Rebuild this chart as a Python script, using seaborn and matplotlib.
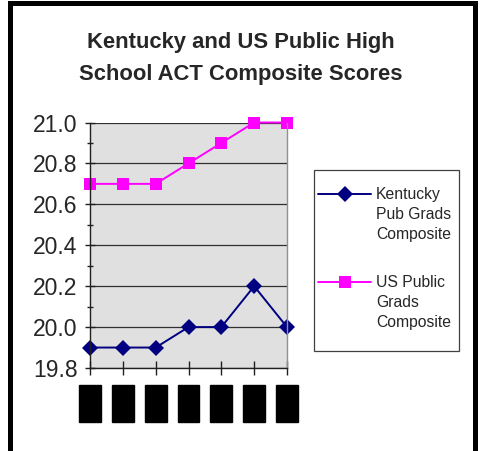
import matplotlib
matplotlib.use("Agg")
import matplotlib.pyplot as plt
import seaborn as sns
import pandas as pd
from matplotlib.ticker import MultipleLocator, FormatStrFormatter
from matplotlib.patches import Rectangle
from matplotlib.lines import Line2D

years = ["1996", "1997", "1998", "1999", "2000", "2001", "2002"]
ky_label = ["Kentucky", "Pub Grads", "Composite"]
us_label = ["US Public", "Grads", "Composite"]
ky_scores = [19.9, 19.9, 19.9, 20.0, 20.0, 20.2, 20.0]
us_scores = [20.7, 20.7, 20.7, 20.8, 20.9, 21.0, 21.0]
title_lines = ["Kentucky and US Public High", "School ACT Composite Scores"]

sns.set_style("white")
plt.rcParams['font.family'] = ['Liberation Sans', 'DejaVu Sans']

W, H = 480, 451
fig = plt.figure(figsize=(4.8, 4.51), dpi=100)
ax = fig.add_axes([90 / W, 1 - 368 / H, 197 / W, 245.5 / H])
ax.set_facecolor("#e0e0e0")

ky_name = "\n".join(ky_label)
us_name = "\n".join(us_label)
df = pd.DataFrame({
    "Year": years * 2,
    "Score": ky_scores + us_scores,
    "Series": [ky_name] * len(years) + [us_name] * len(years),
})
colors = {ky_name: "#000080", us_name: "#ff00ff"}
sns.lineplot(data=df, x="Year", y="Score", hue="Series", style="Series",
             markers={ky_name: "D", us_name: "s"}, dashes=False,
             palette=colors, markersize=9, markeredgewidth=0,
             linewidth=1.4, sort=False, ax=ax)
for ln in ax.lines:
    ln.set_clip_on(False)
    if ln.get_marker() == "D":
        ln.set_markersize(8)

ax.set_xlim(0, 6)
ax.set_ylim(19.8, 21.0)
ax.yaxis.set_major_locator(MultipleLocator(0.2))
ax.yaxis.set_minor_locator(MultipleLocator(0.1))
ax.yaxis.set_major_formatter(FormatStrFormatter("%.1f"))
ax.yaxis.grid(True, which="major", color="#303030", linewidth=0.9)
ax.set_axisbelow(True)
ax.set_xlabel("")
ax.set_ylabel("")
for s in ["left", "bottom"]:
    ax.spines[s].set_color("#202020")
    ax.spines[s].set_linewidth(1.0)
ax.spines["right"].set_color("#909090")
ax.spines["right"].set_linewidth(1.0)
ax.spines["top"].set_visible(False)

ax.tick_params(axis="y", which="major", direction="inout", length=7.2, width=1,
               color="#202020", labelsize=16.5, pad=5.4, left=True)
ax.tick_params(axis="y", which="minor", direction="inout", length=5, width=1,
               color="#202020", left=True)
ax.tick_params(axis="x", direction="inout", length=9.4, width=1, color="#202020",
               bottom=True, pad=11.8)
ax.set_xticks(range(len(years)))
ax.set_xticklabels(years, rotation=90, fontsize=8.1, color="black")
for lbl in ax.get_xticklabels():
    lbl.set_bbox(dict(facecolor="black", edgecolor="black", boxstyle="square,pad=0.53"))

ax.get_legend().remove()
blank = Line2D([], [], linestyle="none", marker=None)
h_ky = Line2D([], [], color=colors[ky_name], marker="D", markersize=8,
              markeredgewidth=0, linewidth=1.4)
h_us = Line2D([], [], color=colors[us_name], marker="s", markersize=9,
              markeredgewidth=0, linewidth=1.4)
handles = [h_ky, blank, blank, blank, h_us, blank, blank]
labels = [ky_label[0], ky_label[1], ky_label[2], " ", us_label[0], us_label[1], us_label[2]]
leg = fig.legend(handles, labels, loc="upper left",
                 bbox_to_anchor=(318 / W, 1 - 187 / H), borderaxespad=0,
                 fontsize=11.3, handlelength=3.4, handletextpad=0.3,
                 labelspacing=0.31, borderpad=0.0, frameon=False)
leg.get_texts()[3].set_fontsize(19)
fig.add_artist(Rectangle((314 / W, 1 - 350.5 / H), 145 / W, 181 / H,
                         transform=fig.transFigure, fill=False,
                         edgecolor="#404040", linewidth=0.9))

fig.text(241 / W, 1 - 48 / H, title_lines[0], ha="center", va="baseline",
         fontsize=15.8, fontweight="bold")
fig.text(241 / W, 1 - 80 / H, title_lines[1], ha="center", va="baseline",
         fontsize=15.8, fontweight="bold")

fig.add_artist(Rectangle((9.5 / W, -0.1), 465 / W, 0.1 + 1 - 2.5 / H,
                         transform=fig.transFigure, fill=False,
                         edgecolor="black", linewidth=3.6))

fig.savefig("out.png", dpi=100)
